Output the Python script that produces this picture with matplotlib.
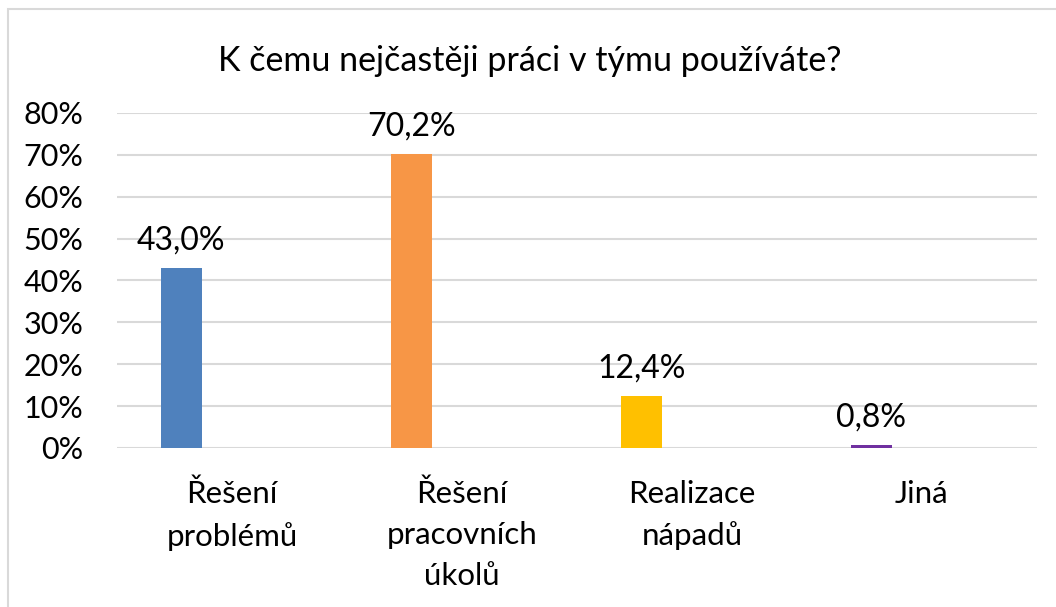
import matplotlib
matplotlib.use("Agg")
import matplotlib.pyplot as plt
import numpy as np
from matplotlib.patches import Rectangle
from matplotlib.ticker import FuncFormatter

plt.rcParams["font.family"] = ["Lato", "DejaVu Sans"]

title = "K čemu nejčastěji práci v týmu používáte?"
categories = ["Řešení\nproblémů", "Řešení\npracovních\núkolů", "Realizace\nnápadů", "Jiná"]
values = [43.0, 70.2, 12.4, 0.8]
colors = ["#4F81BD", "#F79646", "#FFC000", "#7030A0"]
y_ticks = [0, 10, 20, 30, 40, 50, 60, 70, 80]

fig = plt.figure(figsize=(10.56, 6.07), dpi=100)
# light chart-area border, running off the right and bottom edges
fig.patches.append(Rectangle((8 / 1056, -0.1), 1.2, 1 - 9 / 607 + 0.1,
                             transform=fig.transFigure, fill=False,
                             edgecolor="#D9D9D9", linewidth=1.5))
ax = fig.add_axes([0.1108, 0.262, 0.871, 0.552])

x = np.arange(len(categories))
bar_w = 0.178
offset = -0.22
ax.bar(x + offset, values, width=bar_w, color=colors, zorder=3)
for xi, v in zip(x, values):
    ax.text(xi + offset, v + 3.0, f"{v:.1f}%".replace(".", ","),
            ha="center", va="bottom", fontsize=23, color="#000000")

ax.set_xlim(-0.5, len(categories) - 0.5)
ax.set_ylim(0, 80)
ax.set_yticks(y_ticks)
ax.yaxis.set_major_formatter(FuncFormatter(lambda v, p: f"{v:.0f}%"))
ax.set_xticks(x)
ax.set_xticklabels(categories, linespacing=1.55, va="top", fontsize=22.5)
ax.tick_params(axis="both", length=0, colors="#000000")
ax.tick_params(axis="y", pad=24, labelsize=22)
ax.tick_params(axis="x", pad=23)
ax.grid(axis="y", color="#D9D9D9", linewidth=1.5, zorder=0)
for s in ax.spines.values():
    s.set_visible(False)

fig.text(0.502, 0.9, title, ha="center", va="center", fontsize=24.5)

fig.savefig("out.png", dpi=100)
